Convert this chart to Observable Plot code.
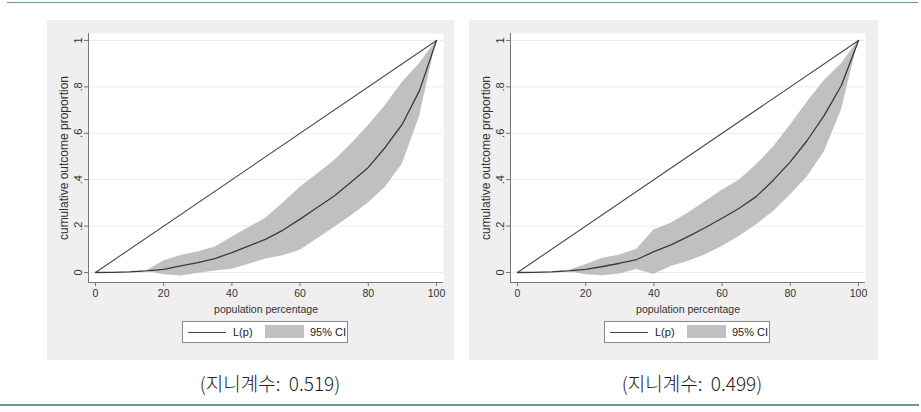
<!DOCTYPE html>
<html><head><meta charset="utf-8">
<script src="https://cdn.jsdelivr.net/npm/d3@7"></script>
<script src="https://cdn.jsdelivr.net/npm/@observablehq/plot@0.6"></script>
<style>
body{margin:0;width:921px;height:412px;position:relative;background:#fff;overflow:hidden;font-family:"Liberation Sans",Arial,sans-serif;}
.hr{position:absolute;background:#6a9f7a;}
.panel{position:absolute;top:20px;height:340px;background:#efefef;}
.panel svg{position:absolute;left:0;top:0;}
.legend{position:absolute;top:301px;height:20px;width:164px;background:#fff;border:1px solid #8a8a8a;font-size:11px;color:#222;}
.legend .ln{position:absolute;left:5px;top:10px;width:38px;height:1px;background:#444;}
.legend .sw{position:absolute;left:82px;top:3px;width:39px;height:13px;background:#c0c0c0;}
.legend .t{position:absolute;top:3px;line-height:14px;}
.caption{position:absolute;top:372px;line-height:22px;font-family:"Noto Sans CJK KR",sans-serif;font-size:19px;font-weight:300;color:#222;white-space:pre;transform:translateX(-50%);}
</style></head>
<body>
<div class="hr" style="left:7px;top:2px;width:911px;height:1px"></div>
<div class="hr" style="left:0px;top:404px;width:919px;height:2px"></div>
<div id="p1" class="panel" style="left:47px;width:407px"></div>
<div id="p2" class="panel" style="left:469px;width:409px"></div>
<div class="caption" style="left:270px">(지니계수:  0.519)</div>
<div class="caption" style="left:692px">(지니계수:  0.499)</div>
<script>
const pct = [0,5,10,15,20,25,30,35,40,45,50,55,60,65,70,75,80,85,90,95,100];
const leftL  = [0,0.001,0.003,0.007,0.014,0.029,0.043,0.060,0.086,0.115,0.144,0.183,0.230,0.280,0.330,0.390,0.453,0.540,0.640,0.784,1];
const leftHi = [0,0.001,0.004,0.008,0.050,0.073,0.088,0.109,0.152,0.194,0.235,0.300,0.367,0.424,0.482,0.554,0.633,0.720,0.820,0.900,1];
const leftLo = [0,0.001,0.003,0.005,-0.010,-0.015,-0.004,0.007,0.014,0.036,0.058,0.072,0.096,0.144,0.194,0.245,0.300,0.367,0.468,0.670,1];
const rightL  = [0,0.001,0.003,0.007,0.014,0.026,0.040,0.056,0.090,0.119,0.155,0.193,0.234,0.277,0.327,0.398,0.477,0.570,0.678,0.807,1];
const rightHi = [0,0.001,0.004,0.009,0.033,0.062,0.076,0.100,0.183,0.212,0.255,0.305,0.355,0.398,0.463,0.540,0.635,0.735,0.828,0.900,1];
const rightLo = [0,0.001,0.003,0.004,-0.010,-0.014,-0.006,0.013,-0.008,0.026,0.047,0.076,0.112,0.155,0.205,0.262,0.334,0.413,0.520,0.700,1];
const equality = [{p:0,v:0},{p:100,v:1}];
const xTicks = [0,20,40,60,80,100];
const yTicks = [0,0.2,0.4,0.6,0.8,1];
const yTickLabels = ["0",".2",".4",".6",".8","1"];
const xTitle = "population percentage";
const yTitle = "cumulative outcome proportion";
const legendLine = "L(p)";
const legendBand = "95% CI";

function panel(el, w, L, lo, hi) {
  const data = pct.map((p,i)=>({p, L:L[i], lo:lo[i], hi:hi[i]}));
  const xMin = -2.05, xMax = 102.05, yMin = -0.043, yMax = 1.03;
  const chart = Plot.plot({
    width: w, height: 300,
    marginLeft: 41, marginRight: w - 41 - 355, marginTop: 13, marginBottom: 38,
    style: {background:"transparent", fontFamily:'"Liberation Sans",Arial,sans-serif', fontSize:"11px", color:"#333"},
    x: {domain:[xMin,xMax]},
    y: {domain:[yMin,yMax]},
    marks: [
      Plot.frame({fill:"white", stroke:null}),
      Plot.gridY(yTicks, {stroke:"#e6ecef", strokeOpacity:1}),
      Plot.areaY(data, {x:"p", y1:"lo", y2:"hi", fill:"#c0c0c0"}),
      Plot.line(equality, {x:"p", y:"v", stroke:"#4a4a4a", strokeWidth:1.1}),
      Plot.line(data, {x:"p", y:"L", stroke:"#3a3a3a", strokeWidth:1.3}),
      Plot.ruleX([xMin], {stroke:"#777"}),
      Plot.ruleY([yMin], {stroke:"#777"}),
      Plot.axisX(xTicks, {tickSize:4, tickPadding:3, stroke:"#777", fontSize:10.5, label:xTitle, labelAnchor:"center", labelOffset:30, labelArrow:false}),
      Plot.axisY(yTicks, {tickSize:4, tickPadding:3, stroke:"#777", fontSize:11, tickRotate:-90, tickFormat:(d,i)=>yTickLabels[i], label:null}),
      Plot.text([yTitle], {text:d=>d, frameAnchor:"left", rotate:-90, dx:-29, textAnchor:"middle", lineAnchor:"top", fontSize:12, fill:"#333"})
    ]
  });
  el.appendChild(chart);
  const lg = document.createElement("div");
  lg.className = "legend";
  lg.style.left = "135px";
  lg.innerHTML = `<div class="ln"></div><div class="t" style="left:50px">${legendLine}</div><div class="sw"></div><div class="t" style="left:127px">${legendBand}</div>`;
  el.appendChild(lg);
}
panel(document.getElementById("p1"), 407, leftL, leftLo, leftHi);
panel(document.getElementById("p2"), 409, rightL, rightLo, rightHi);
</script>
</body></html>
